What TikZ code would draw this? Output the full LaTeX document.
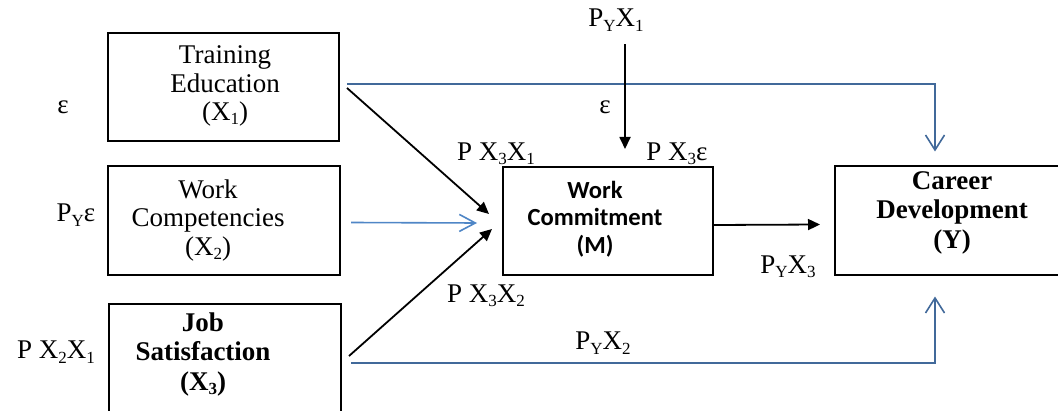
\documentclass[tikz,border=0pt]{standalone}
\usepackage{fontspec}
\setmainfont{Liberation Serif}
\newfontfamily\calfont{Carlito}
\usepackage{tikz}
\usetikzlibrary{arrows.meta, positioning, calc}
\usepackage{xcolor}
\definecolor{pathblue}{HTML}{41699A}
\definecolor{softblue}{HTML}{4F86C6}
\newcommand{\lowsub}[1]{\raisebox{-0.35ex}{\fontsize{8.5}{8.5}\selectfont #1}}
\tikzset{
  varbox/.style={rectangle, draw=black, line width=1pt, minimum height=54pt, inner sep=0pt},
  vartext/.style={align=center, font=\fontsize{13.5}{14.25}\selectfont},
  bvartext/.style={align=center, font=\fontsize{13.5}{14.75}\selectfont\bfseries},
  mtext/.style={align=center, font=\calfont\bfseries\fontsize{12.3}{13.75}\selectfont},
  coef/.style={font=\fontsize{13.5}{14}\selectfont, inner sep=1pt},
  link/.style={-{Triangle[length=6pt,width=5.5pt]}, line width=0.9pt, draw=black},
  bluelink/.style={-{Straight Barb[length=7.5pt,width=9.5pt]}, line width=0.8pt, draw=pathblue},
  softlink/.style={-{Straight Barb[length=8pt,width=8.5pt]}, line width=0.8pt, draw=softblue},
}

\begin{document}
\begin{tikzpicture}[x=0.5pt, y=-0.5pt]
  \useasboundingbox (0,0) rectangle (1058,411);

  % variable boxes
  \node[varbox, minimum width=115.5pt] (x1) at (223.5,87) {};
  \node[varbox, minimum width=116pt] (x2) at (224,220.5) {};
  \node[varbox, minimum width=116pt] (x3) at (225,358) {};
  \node[varbox, minimum width=105pt] (m) at (608,221) {};
  \node[varbox, minimum width=117pt] (y) at (952,220.5) {};

  \node[vartext] (x1t) at ([xshift=0.75pt,yshift=0.5pt]x1.center) {Training\\Education\\(X\lowsub{1})};
  \node[vartext] (x2t) at ([xshift=-8pt]x2.center) {Work\\Competencies\\(X\lowsub{2})};
  \node[bvartext] (x3t) at ([xshift=-11pt,yshift=1.75pt]x3.center) {Job\\Satisfaction\\(X\lowsub{3})};
  \node[mtext] (mt) at ([xshift=-6.5pt,yshift=1pt]m.center) {Work\\Commitment\\(M)};
  \node[bvartext] (yt) at ([yshift=4pt]y.center) {Career\\Development\\(Y)};

  % path coefficients
  \node[coef] (eps1) at (63,107) {ε};
  \node[coef] (pye) at (76,215) {P\lowsub{Y}ε};
  \node[coef] (px2x1) at (56,352) {P X\lowsub{2}X\lowsub{1}};
  \node[coef] (py1) at (616,20) {P\lowsub{Y}X\lowsub{1}};
  \node[coef] (eps2) at (605,107) {ε};
  \node[coef] (px3x1) at (496,154) {P X\lowsub{3}X\lowsub{1}};
  \node[coef] (px3e) at (677,154) {P X\lowsub{3}ε};
  \node[coef] (px3x2) at (486,296) {P X\lowsub{3}X\lowsub{2}};
  \node[coef] (py3) at (788,267) {P\lowsub{Y}X\lowsub{3}};
  \node[coef] (py2) at (603,343) {P\lowsub{Y}X\lowsub{2}};

  \draw[bluelink] ([xshift=3.5pt,yshift=1.5pt]x1.east) -| ([xshift=-8.5pt,yshift=7pt]y.north);
  \draw[bluelink] ([xshift=4.5pt,yshift=-2.5pt]x3.east) -| ([xshift=-8.5pt,yshift=-10.5pt]y.south);
  \draw[softlink] ([xshift=5pt,yshift=-1pt]x2.east) -- ([xshift=-12.5pt,yshift=-1pt]m.west);
  \draw[link] ([xshift=3.5pt,yshift=-0.5pt]x1.east) -- ([xshift=-6.5pt,yshift=3.5pt]m.west);
  \draw[link] ([xshift=3.5pt,yshift=1pt]x3.east) -- ([xshift=-5pt,yshift=-4pt]m.west);
  \draw[link] ([yshift=-2pt]m.east) -- ([xshift=-7pt,yshift=-2pt]y.west);
  \draw[link] ([xshift=4.5pt,yshift=-5.5pt]py1.south) -- ([xshift=8.5pt,yshift=8.5pt]m.north);
\end{tikzpicture}
\end{document}
